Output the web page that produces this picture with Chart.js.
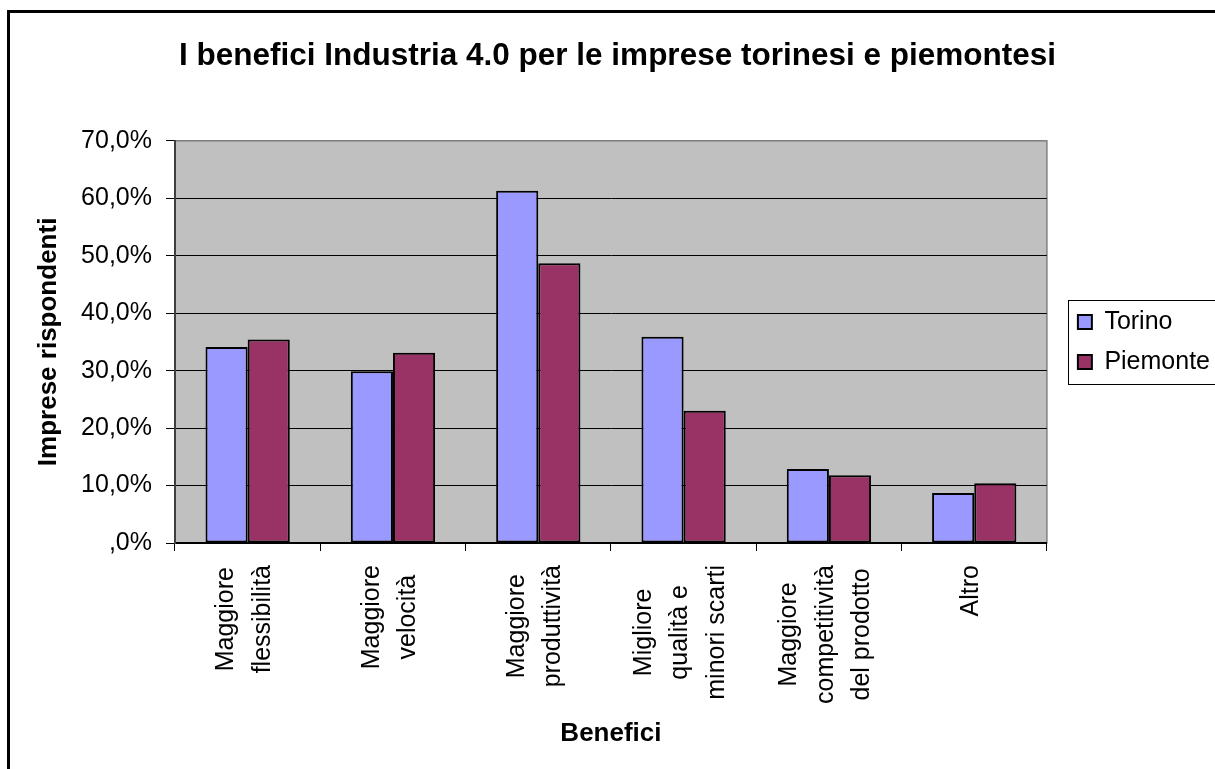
<!DOCTYPE html>
<html lang="it">
<head>
  <meta charset="UTF-8" />
  <title>I benefici Industria 4.0</title>
  <script src="https://cdn.jsdelivr.net/npm/chart.js"></script>
  <style>
    html, body { margin: 0; padding: 0; background: #fff; overflow: hidden; }
    #frame { position: absolute; left: 7px; top: 10px; width: 1400px; height: 900px; border: 3px solid #000; }
    #wrap { position: absolute; left: 0; top: 0; width: 1215px; height: 769px; }
  </style>
</head>
<body>
  <div id="frame"></div>
  <div id="wrap"><canvas id="chart" width="1215" height="769"></canvas></div>

  <script>
    // categories, one line per array item (wrapped like the original)
    const categories = [
      ['Maggiore', 'flessibilità'],
      ['Maggiore', 'velocità'],
      ['Maggiore', 'produttività'],
      ['Migliore', 'qualità e', 'minori scarti'],
      ['Maggiore', 'competitività', 'del prodotto'],
      ['Altro']
    ];
    const torino   = [34.1, 29.9, 61.3, 35.9, 12.9, 8.7];
    const piemonte = [35.4, 33.1, 48.7, 23.0, 11.8, 10.4];
    const yTickLabels = [',0%', '10,0%', '20,0%', '30,0%', '40,0%', '50,0%', '60,0%', '70,0%'];

    const FONT = '"Liberation Sans", Arial, sans-serif';

    const plotBg = {
      id: 'plotBg',
      afterLayout(chart) {
        // nudge title and legend to where the original puts them
        const a = chart.chartArea;
        chart.titleBlock.left += 31;
        const lg = chart.legend;
        lg.left += 16;
        lg.right += 16;
        lg.top = a.top;
        lg.bottom = a.bottom;
        lg.height = a.bottom - a.top;
      },
      beforeDraw(chart) {
        const { ctx, chartArea: a } = chart;
        ctx.save();
        ctx.fillStyle = '#C0C0C0';
        ctx.fillRect(a.left, a.top, a.right - a.left, a.bottom - a.top);
        ctx.strokeStyle = '#808080';
        ctx.lineWidth = 1.5;
        ctx.strokeRect(a.left, a.top, a.right - a.left, a.bottom - a.top);
        ctx.restore();
      },
      afterDraw(chart) {
        const { ctx, chartArea: a } = chart;
        const xs = chart.scales.x;
        ctx.save();
        // category labels, rotated, lines centred on the category
        ctx.font = '25px ' + FONT;
        ctx.fillStyle = '#000';
        ctx.textAlign = 'center';
        ctx.textBaseline = 'middle';
        categories.forEach((lines, i) => {
          const maxW = Math.max(...lines.map(l => ctx.measureText(l).width));
          const cx = xs.getPixelForValue(i) - 3;
          const cy = a.bottom + 22 + maxW / 2;
          lines.forEach((line, j) => {
            ctx.save();
            ctx.translate(cx + (j - (lines.length - 1) / 2) * 36.5, cy);
            ctx.rotate(-Math.PI / 2);
            ctx.fillText(line, 0, 0);
            ctx.restore();
          });
        });
        // legend frame
        const mid = (a.top + a.bottom) / 2;
        ctx.strokeStyle = '#000';
        ctx.lineWidth = 1;
        ctx.strokeRect(Math.round(a.right + 21) + 0.5, Math.round(mid - 42) + 0.5, 200, 84);
        ctx.restore();
      }
    };

    new Chart(document.getElementById('chart'), {
      type: 'bar',
      data: {
        labels: categories.map(c => c.join(' ')),
        datasets: [
          {
            label: 'Torino',
            data: torino,
            backgroundColor: '#9999FF',
            borderColor: '#000',
            borderWidth: 2,
            borderSkipped: false
          },
          {
            label: 'Piemonte',
            data: piemonte,
            backgroundColor: '#993366',
            borderColor: '#000',
            borderWidth: 2,
            borderSkipped: false
          }
        ]
      },
      plugins: [plotBg],
      options: {
        responsive: false,
        animation: false,
        layout: { padding: { left: 0, right: 11, top: 0, bottom: 0 } },
        datasets: { bar: { categoryPercentage: 0.58, barPercentage: 1.0 } },
        plugins: {
          title: {
            display: true,
            text: 'I benefici Industria 4.0 per le imprese torinesi e piemontesi',
            color: '#000',
            font: { family: FONT, size: 31.5, weight: 'bold', lineHeight: 1.2 },
            padding: { top: 37, bottom: 66 }
          },
          legend: {
            position: 'right',
            labels: {
              color: '#000',
              font: { family: FONT, size: 25 },
              boxWidth: 14,
              boxHeight: 14,
              padding: 15
            }
          },
          tooltip: { enabled: false }
        },
        scales: {
          x: {
            grid: { display: true, drawOnChartArea: false, drawTicks: true, tickLength: 8, color: '#000', offset: true },
            border: { display: true, color: '#000', width: 1.5 },
            ticks: { display: false },
            title: {
              display: true,
              text: 'Benefici',
              color: '#000',
              font: { family: FONT, size: 26, weight: 'bold', lineHeight: 1.2 },
              padding: { top: 0, bottom: 20 }
            },
            afterFit(s) { s.height = 226; }
          },
          y: {
            min: 0,
            max: 70,
            ticks: {
              stepSize: 10,
              color: '#000',
              font: { family: FONT, size: 25 },
              padding: 14,
              callback: (v, i) => yTickLabels[i]
            },
            grid: {
              color: c => (c.tick && c.tick.value === 70 ? '#808080' : '#000'),
              tickColor: '#000',
              tickLength: 9,
              lineWidth: 1
            },
            border: { color: '#404040', width: 2 },
            title: {
              display: true,
              text: 'Imprese rispondenti',
              color: '#000',
              font: { family: FONT, size: 26, weight: 'bold', lineHeight: 1.2 },
              padding: { top: 33, bottom: 0 }
            },
            afterFit(s) { s.width = 175; }
          }
        }
      }
    });
  </script>
</body>
</html>
